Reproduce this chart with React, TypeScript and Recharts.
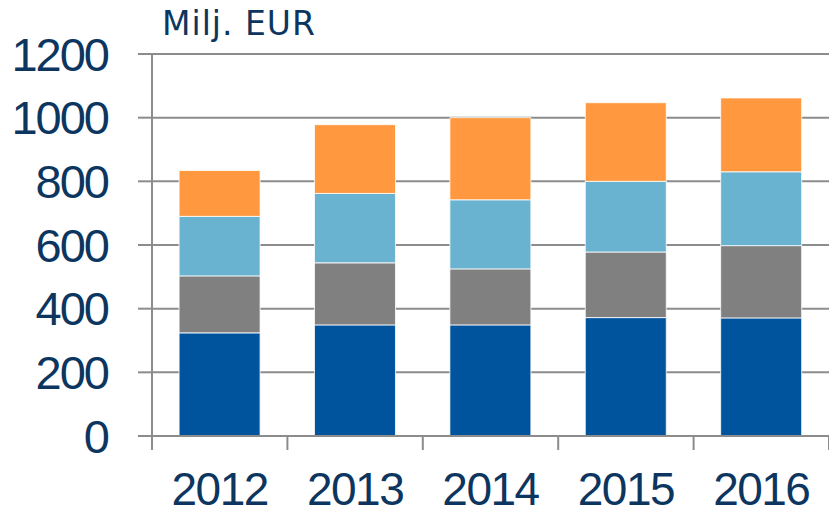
import { BarChart, Bar, XAxis, YAxis, CartesianGrid } from "recharts";

const YEARS = ["2012", "2013", "2014", "2015", "2016"];
const DARK_BLUE = [324, 349, 349, 372, 371];
const GRAY = [179, 195, 176, 206, 227];
const LIGHT_BLUE = [187, 218, 217, 222, 232];
const ORANGE = [144, 216, 258, 247, 232];
const Y_TICKS = [0, 200, 400, 600, 800, 1000, 1200];

const W = 829;
const H = 515;
const LEFT = 152;
const TOP = 54;
const X_AXIS_H = 79;
const HALF_BAND = (W - LEFT) / YEARS.length / 2;

const TEXT = "#0c365f";
const LINE = "#8c8c8c";
const FONT = "'Liberation Sans', Arial, sans-serif";

const data = YEARS.map((year, i) => ({
  year,
  s1: DARK_BLUE[i],
  s2: GRAY[i],
  s3: LIGHT_BLUE[i],
  s4: ORANGE[i],
}));

// year label plus tick marks on the category boundaries
function YearTick(props: any) {
  const { x, y, payload, index } = props;
  const last = index === YEARS.length - 1;
  return (
    <g>
      <line x1={x - HALF_BAND} x2={x - HALF_BAND} y1={y} y2={y + 14} stroke={LINE} strokeWidth={2} />
      {last && (
        <line x1={x + HALF_BAND} x2={x + HALF_BAND} y1={y} y2={y + 14} stroke={LINE} strokeWidth={2} />
      )}
      <text
        x={x}
        y={y + 69}
        textAnchor="middle"
        fill={TEXT}
        fontSize={46}
        letterSpacing={-1.5}
        fontFamily={FONT}
      >
        {payload.value}
      </text>
    </g>
  );
}

export default function App() {
  return (
    <div
      style={{
        position: "absolute",
        left: 0,
        top: 0,
        width: W,
        height: H,
        overflow: "hidden",
        background: "#fff",
      }}
    >
      <div
        style={{
          position: "absolute",
          left: 162,
          top: 7,
          fontFamily: "'DejaVu Sans', sans-serif",
          fontSize: 33,
          letterSpacing: 1,
          color: TEXT,
          lineHeight: 1,
        }}
      >
        Milj. EUR
      </div>
      <BarChart
        width={W}
        height={H}
        data={data}
        margin={{ top: TOP, right: 0, bottom: 0, left: 0 }}
        barCategoryGap="20%"
      >
        <CartesianGrid horizontal vertical={false} stroke={LINE} strokeWidth={2} />
        <XAxis
          dataKey="year"
          height={X_AXIS_H}
          axisLine={{ stroke: LINE, strokeWidth: 2 }}
          tickLine={false}
          tickSize={0}
          tickMargin={0}
          tick={<YearTick />}
          interval={0}
        />
        <YAxis
          width={LEFT}
          domain={[0, 1200]}
          ticks={Y_TICKS}
          interval={0}
          axisLine={{ stroke: LINE, strokeWidth: 2 }}
          tickLine={{ stroke: LINE, strokeWidth: 2 }}
          tickSize={14}
          tickMargin={30}
          tick={{ fill: TEXT, fontSize: 47, fontFamily: FONT, letterSpacing: -2 }}
        />
        <Bar dataKey="s1" stackId="a" fill="#00549e" stroke="#ffffff" strokeWidth={0.8} isAnimationActive={false} />
        <Bar dataKey="s2" stackId="a" fill="#808080" stroke="#ffffff" strokeWidth={0.8} isAnimationActive={false} />
        <Bar dataKey="s3" stackId="a" fill="#69b3d1" stroke="#ffffff" strokeWidth={0.8} isAnimationActive={false} />
        <Bar dataKey="s4" stackId="a" fill="#ff983e" stroke="#ffffff" strokeWidth={0.8} isAnimationActive={false} />
      </BarChart>
    </div>
  );
}
